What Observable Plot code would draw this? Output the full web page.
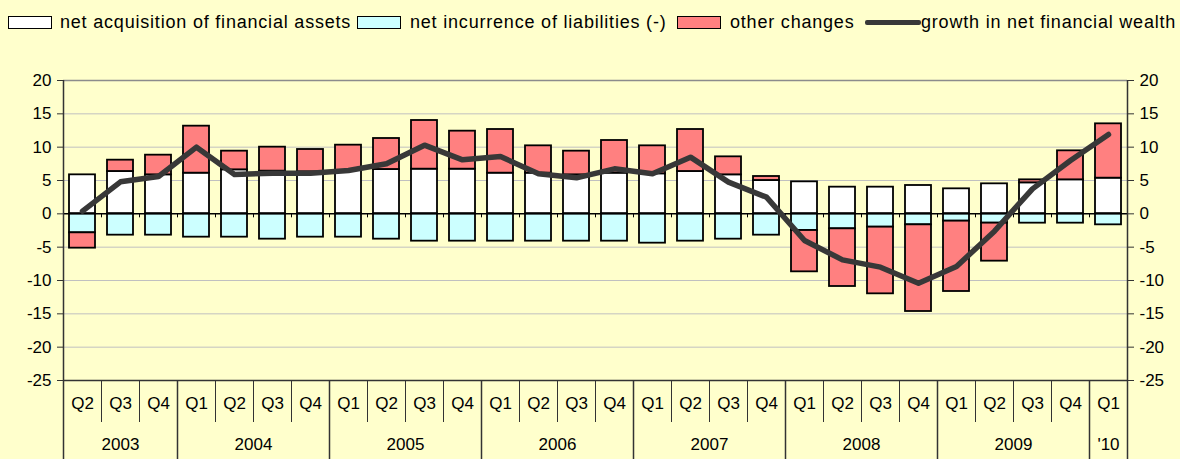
<!DOCTYPE html>
<html>
<head>
<meta charset="utf-8">
<script src="https://cdn.jsdelivr.net/npm/d3@7"></script>
<script src="https://cdn.jsdelivr.net/npm/@observablehq/plot@0.6"></script>
<style>
  html, body { margin: 0; padding: 0; background: #FFFFCC; }
  body { width: 1180px; height: 459px; overflow: hidden; font-family: "Liberation Sans", Arial, sans-serif; }
  #legend { position: relative; height: 45px; width: 1180px; font-size: 18px; color: #000; }
  .sw { position: absolute; top: 16px; width: 42px; height: 11px; border: 1.5px solid #000; }
  .lab { position: absolute; top: 12px; line-height: 21px; white-space: nowrap; letter-spacing: 0.8px; }
  .ln { position: absolute; top: 20px; width: 56px; height: 5px; background: #383838; border-radius: 2px; }
  #chart svg { display: block; }
</style>
</head>
<body>
<div id="legend"></div>
<div id="chart"></div>
<script>
// ---- data ----
const quarters = ["Q2","Q3","Q4","Q1","Q2","Q3","Q4","Q1","Q2","Q3","Q4","Q1","Q2","Q3","Q4","Q1","Q2","Q3","Q4","Q1","Q2","Q3","Q4","Q1","Q2","Q3","Q4","Q1"];
const yearLabels = ["2003","2004","2005","2006","2007","2008","2009","'10"];
const yearQuarterCounts = [3, 4, 4, 4, 4, 4, 4, 1];
const seriesNames = ["net acquisition of financial assets", "net incurrence of liabilities (-)", "other changes"];
const lineName = "growth in net financial wealth";
const assets = [5.85, 6.35, 5.85, 6.1, 6.6, 6.4, 6.3, 6.5, 6.65, 6.7, 6.7, 6.1, 6.1, 5.85, 6.1, 6.0, 6.35, 5.85, 5.0, 4.8, 4.0, 4.0, 4.25, 3.75, 4.5, 4.65, 5.1, 5.35];
const liabilities = [-2.85, -3.2, -3.2, -3.5, -3.5, -3.8, -3.5, -3.5, -3.8, -4.1, -4.1, -4.1, -4.1, -4.1, -4.1, -4.4, -4.1, -3.8, -3.2, -2.5, -2.25, -2.0, -1.65, -1.1, -1.4, -1.4, -1.4, -1.65];
const otherChanges = [-2.3, 1.7, 2.95, 7.05, 2.8, 3.6, 3.35, 3.8, 4.65, 7.3, 5.7, 6.55, 4.1, 3.55, 4.9, 4.2, 6.3, 2.7, 0.6, -6.2, -8.65, -10.0, -13.0, -10.55, -5.7, 0.45, 4.35, 8.15];
const growth = [0.4, 4.8, 5.6, 10.0, 5.9, 6.1, 6.1, 6.5, 7.5, 10.3, 8.1, 8.6, 6.0, 5.4, 6.75, 6.0, 8.5, 4.75, 2.5, -4.0, -6.9, -8.0, -10.4, -7.9, -2.6, 3.75, 8.0, 11.9];
const yTicks = [-25, -20, -15, -10, -5, 0, 5, 10, 15, 20];
const colors = ["#FFFFFF", "#CCFFFF", "#FF8080"];

// ---- legend ----
const legend = document.getElementById("legend");
const legendItems = [
  {kind: "sw", color: colors[0], sx: 8, tx: 60, text: seriesNames[0]},
  {kind: "sw", color: colors[1], sx: 357, tx: 410, text: seriesNames[1]},
  {kind: "sw", color: colors[2], sx: 677, tx: 730, text: seriesNames[2]},
  {kind: "ln", color: "#383838", sx: 865, tx: 921, text: lineName}
];
for (const it of legendItems) {
  const s = document.createElement("div");
  s.className = it.kind;
  s.style.left = it.sx + "px";
  if (it.kind === "sw") s.style.background = it.color;
  legend.appendChild(s);
  const t = document.createElement("div");
  t.className = "lab";
  t.style.left = it.tx + "px";
  t.textContent = it.text;
  legend.appendChild(t);
}

// ---- build tables ----
const rows = [];
[assets, liabilities, otherChanges].forEach((arr, k) => {
  arr.forEach((v, i) => rows.push({i, series: seriesNames[k], value: v}));
});
const growthRows = growth.map((v, i) => ({i, v}));
const quarterRows = quarters.map((q, i) => ({i, q}));
const yearRows = [];
const yearBoundaries = [0];
let start = 0;
yearLabels.forEach((y, k) => {
  yearRows.push({label: y, start, count: yearQuarterCounts[k]});
  start += yearQuarterCounts[k];
  yearBoundaries.push(start);
});
const n = quarters.length;
const quarterBoundaries = d3.range(1, n).filter(b => !yearBoundaries.includes(b));
const innerBoundaries = d3.range(1, n);

const chart = Plot.plot({
  width: 1180,
  height: 414,
  marginLeft: 63,
  marginRight: 53,
  marginTop: 35,
  marginBottom: 79,
  x: {domain: [0, n], axis: null},
  y: {domain: [-25, 20], axis: null},
  color: {domain: seriesNames, range: colors},
  style: {background: "#FFFFCC", fontFamily: "Liberation Sans, Arial, sans-serif", fontSize: "17px", color: "#000", overflow: "visible"},
  marks: [
    Plot.ruleY(yTicks.filter(t => t > -25 && t < 20 && t !== 0), {stroke: "#C0C0C0", strokeWidth: 1}),
    Plot.ruleY([20], {stroke: "#8C8C8C", strokeWidth: 1.5}),
    Plot.rectY(rows, Plot.stackY({
      x1: d => d.i, x2: d => d.i + 1, y: "value", fill: "series",
      stroke: "#000", strokeWidth: 1.8, insetLeft: 6, insetRight: 6
    })),
    Plot.ruleY([0], {stroke: "#000", strokeWidth: 1.5}),
    Plot.ruleX(innerBoundaries, {x: d => d, y1: 0, y2: 0, insetBottom: -4, stroke: "#000", strokeWidth: 1}),
    Plot.ruleY([-25], {stroke: "#333", strokeWidth: 1.5}),
    Plot.ruleX([0, n], {stroke: "#333", strokeWidth: 1.5}),
    Plot.line(growthRows, {x: d => d.i + 0.5, y: "v", stroke: "#383838", strokeWidth: 5.5, strokeLinejoin: "round", strokeLinecap: "round"}),
    Plot.axisY(yTicks, {anchor: "left", tickSize: 6, tickPadding: 6, tickFormat: d => String(d), label: null, stroke: "#333", fill: "#000", fontSize: 17}),
    Plot.axisY(yTicks, {anchor: "right", tickSize: 6, tickPadding: 6, tickFormat: d => String(d), label: null, stroke: "#333", fill: "#000", fontSize: 17}),
    Plot.axisX(quarterBoundaries, {anchor: "bottom", tickSize: 42, tickFormat: () => "", label: null, stroke: "#333", strokeWidth: 1}),
    Plot.axisX(yearBoundaries, {anchor: "bottom", tickSize: 79, tickFormat: () => "", label: null, stroke: "#333", strokeWidth: 1.5}),
    Plot.text(quarterRows, {x: d => d.i + 0.5, text: "q", frameAnchor: "bottom", dy: 28, fontSize: 17, fill: "#000"}),
    Plot.text(yearRows, {x: d => d.start + d.count / 2, text: "label", frameAnchor: "bottom", dy: 69, fontSize: 17, fill: "#000"})
  ]
});
document.getElementById("chart").appendChild(chart);
</script>
</body>
</html>
